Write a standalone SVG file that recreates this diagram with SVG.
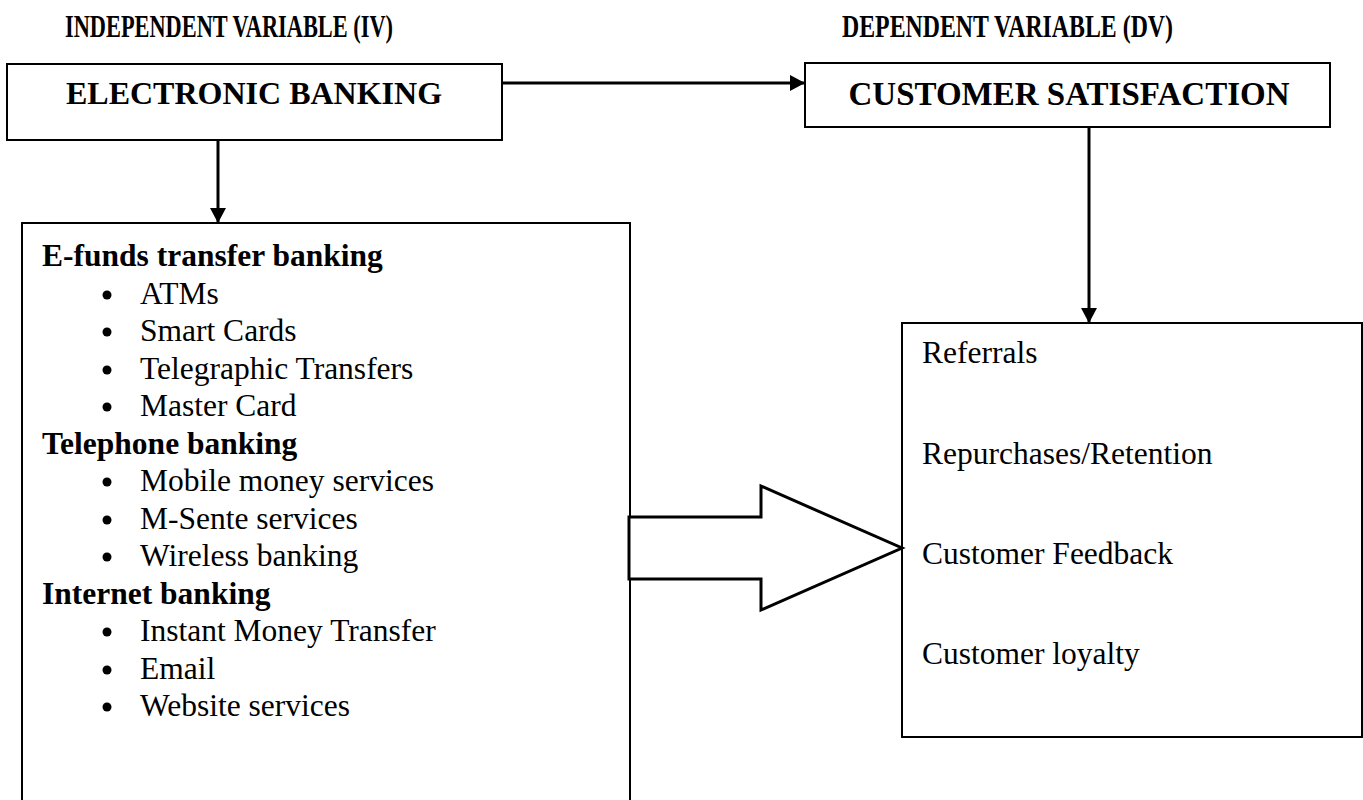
<svg xmlns="http://www.w3.org/2000/svg" width="1363" height="800" viewBox="0 0 1363 800">
<defs>
<style>
text{font-family:"Liberation Serif","Times New Roman",serif;fill:#000}
.h{font-weight:bold;font-size:32px}
.b{font-weight:bold;font-size:31.5px}
.t{font-size:31.5px}
.box{fill:#fff;stroke:#000;stroke-width:2}
.con{stroke:#000;stroke-width:3;fill:none}
.bullet{fill:#000}
</style>
<marker id="ah" markerUnits="userSpaceOnUse" markerWidth="16" markerHeight="18" refX="15" refY="9" orient="auto">
<path d="M0,1 L15,9 L0,17 Z" fill="#000"/>
</marker>
</defs>
<rect width="1363" height="800" fill="#fff"/>
<text class="h" x="65" y="37" textLength="328" lengthAdjust="spacingAndGlyphs">INDEPENDENT VARIABLE (IV)</text>
<text class="h" x="842" y="37" textLength="331" lengthAdjust="spacingAndGlyphs">DEPENDENT VARIABLE (DV)</text>

<g id="connectors">
<line class="con" x1="502" y1="83" x2="805" y2="83" marker-end="url(#ah)"/>
<line class="con" x1="218" y1="140" x2="218" y2="223" marker-end="url(#ah)"/>
<line class="con" x1="1089" y1="127" x2="1089" y2="323" marker-end="url(#ah)"/>
</g>

<g id="electronic-banking">
<rect class="box" x="7" y="64" width="495" height="76"/>
<text class="b" x="254" y="104" text-anchor="middle" style="font-size:32px">ELECTRONIC BANKING</text>
</g>

<g id="customer-satisfaction">
<rect class="box" x="805" y="63" width="525" height="64"/>
<text class="b" x="1069" y="105" text-anchor="middle" style="font-size:33px">CUSTOMER SATISFACTION</text>
</g>

<g id="iv-list">
<rect class="box" x="22" y="223" width="608" height="590"/>
<text class="b" x="42" y="266">E-funds transfer banking</text>
<circle class="bullet" cx="107" cy="295" r="4.5"/><text class="t" x="140" y="304">ATMs</text>
<circle class="bullet" cx="107" cy="332" r="4.5"/><text class="t" x="140" y="341">Smart Cards</text>
<circle class="bullet" cx="107" cy="370" r="4.5"/><text class="t" x="140" y="379">Telegraphic Transfers</text>
<circle class="bullet" cx="107" cy="407" r="4.5"/><text class="t" x="140" y="416">Master Card</text>
<text class="b" x="42" y="454">Telephone banking</text>
<circle class="bullet" cx="107" cy="482" r="4.5"/><text class="t" x="140" y="491">Mobile money services</text>
<circle class="bullet" cx="107" cy="520" r="4.5"/><text class="t" x="140" y="529">M-Sente services</text>
<circle class="bullet" cx="107" cy="557" r="4.5"/><text class="t" x="140" y="566">Wireless banking</text>
<text class="b" x="42" y="604">Internet banking</text>
<circle class="bullet" cx="107" cy="632" r="4.5"/><text class="t" x="140" y="641">Instant Money Transfer</text>
<circle class="bullet" cx="107" cy="670" r="4.5"/><text class="t" x="140" y="679">Email</text>
<circle class="bullet" cx="107" cy="707" r="4.5"/><text class="t" x="140" y="716">Website services</text>
</g>

<g id="dv-list">
<rect class="box" x="902" y="323" width="460" height="414"/>
<text class="t" x="922" y="363">Referrals</text>
<text class="t" x="922" y="464">Repurchases/Retention</text>
<text class="t" x="922" y="564">Customer Feedback</text>
<text class="t" x="922" y="664">Customer loyalty</text>
</g>

<g id="block-arrow">
<path d="M629,517 L761,517 L761,486 L902,548 L761,610 L761,579 L629,579 Z" fill="#fff" stroke="#000" stroke-width="3" stroke-linejoin="miter"/>
</g>
</svg>
